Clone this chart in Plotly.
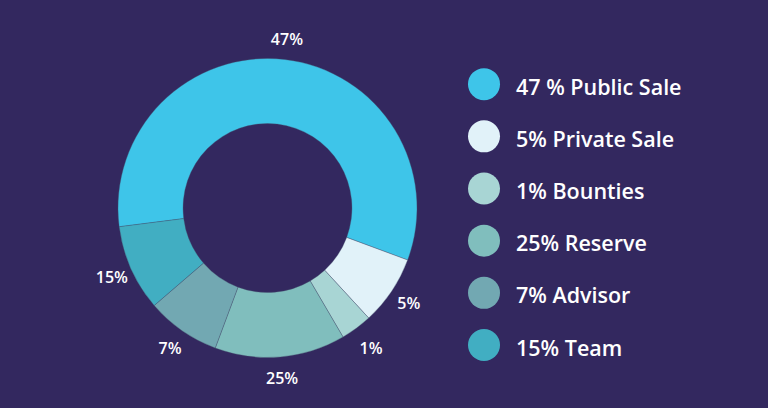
import plotly.graph_objects as go

# Data
categories = ["Public Sale", "Private Sale", "Bounties", "Reserve", "Advisor", "Team"]
slice_values = [57.6, 7.5, 3.4, 14.1, 8.0, 9.3]          # slice sizes as drawn
label_texts = ["47%", "5%", "1%", "25%", "7%", "15%"]      # printed labels
legend_texts = ["47 % Public Sale", "5% Private Sale", "1% Bounties",
                "25% Reserve", "7% Advisor", "15% Team"]
colors = ["#3ec5e9", "#e1f2f9", "#a8d5d4", "#80bebd", "#72a8b2", "#41aec2"]

BG = "#33285f"
W, H = 768, 408
FONT = "Open Sans"
CX, CY, R, RL = 267.5, 208.0, 149.5, 193.0

fig = go.Figure()

fig.add_trace(go.Pie(
    labels=categories,
    values=slice_values,
    textinfo="none",
    marker=dict(colors=colors, line=dict(color="rgba(70,80,110,0.6)", width=0.6)),
    hole=0.565,
    sort=False,
    direction="clockwise",
    rotation=-97.2,
    domain=dict(x=[(CX - R) / W, (CX + R) / W], y=[1 - (CY + R) / H, 1 - (CY - R) / H]),
    showlegend=False,
    hoverinfo="skip",
))

# transparent outer ring carrying the percentage labels
fig.add_trace(go.Pie(
    labels=categories,
    values=slice_values,
    text=label_texts,
    textinfo="text",
    textposition="inside",
    insidetextorientation="horizontal",
    textfont=dict(color="white", size=16, family=FONT, weight=600),
    marker=dict(colors=["rgba(0,0,0,0)"] * len(categories), line=dict(width=0)),
    hole=(R - 2) / RL,
    sort=False,
    direction="clockwise",
    rotation=-97.2,
    domain=dict(x=[(CX - RL) / W, (CX + RL) / W], y=[1 - (CY + RL) / H, 1 - (CY - RL) / H]),
    showlegend=False,
    hoverinfo="skip",
))

idx = list(range(len(categories)))

# legend as circles + text
fig.add_trace(go.Scatter(
    x=[16] * len(idx), y=idx, mode="markers",
    marker=dict(size=32, color=colors, line=dict(width=0)),
    xaxis="x", yaxis="y", showlegend=False, hoverinfo="skip",
))
fig.add_trace(go.Scatter(
    x=[48] * len(idx), y=[i + 0.1 for i in idx], mode="text",
    text=legend_texts, textposition="middle right",
    textfont=dict(color="white", size=21.5, family=FONT, weight=600),
    xaxis="x", yaxis="y", showlegend=False, hoverinfo="skip",
))

fig.update_layout(
    width=W, height=H,
    margin=dict(l=0, r=0, t=0, b=0),
    paper_bgcolor=BG, plot_bgcolor="rgba(0,0,0,0)",
    font=dict(family=FONT, color="white"),
    uniformtext=dict(minsize=16, mode="show"),
    xaxis=dict(domain=[468 / W, 1.0], range=[0, 300], visible=False, fixedrange=True),
    yaxis=dict(domain=[1 - 371.1 / H, 1 - 58.1 / H], range=[5.5, -0.5],
               visible=False, fixedrange=True),
)

fig.write_html("out.html", config={"displayModeBar": False},
               post_script="document.body.style.margin='0';")
